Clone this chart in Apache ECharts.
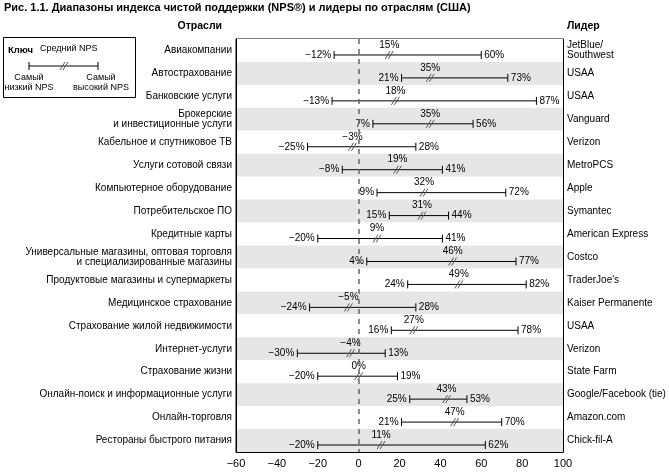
<!DOCTYPE html>
<html><head><meta charset="utf-8">
<script src="https://cdn.jsdelivr.net/npm/echarts@6/dist/echarts.min.js"></script>
<style>html,body{margin:0;padding:0;background:#fff}#c{width:669px;height:476px}</style>
</head><body><div id="c"></div>
<script>
const industries = ["Авиакомпании","Автострахование","Банковские услуги","Брокерские\nи инвестиционные услуги","Кабельное и спутниковое ТВ","Услуги сотовой связи","Компьютерное оборудование","Потребительское ПО","Кредитные карты","Универсальные магазины, оптовая торговля\nи специализированные магазины","Продуктовые магазины и супермаркеты","Медицинское страхование","Страхование жилой недвижимости","Интернет-услуги","Страхование жизни","Онлайн-поиск и информационные услуги","Онлайн-торговля","Рестораны быстрого питания"];
const leaders = ["JetBlue/\nSouthwest","USAA","USAA","Vanguard","Verizon","MetroPCS","Apple","Symantec","American Express","Costco","TraderJoe's","Kaiser Permanente","USAA","Verizon","State Farm","Google/Facebook (tie)","Amazon.com","Chick-fil-A"];
const lowNPS  = [-12,21,-13,7,-25,-8,9,15,-20,4,24,-24,16,-30,-20,25,21,-20];
const avgNPS  = [15,35,18,35,-3,19,32,31,9,46,49,-5,27,-4,0,43,47,11];
const highNPS = [60,73,87,56,28,41,72,44,41,77,82,28,78,13,19,53,70,62];
const xTicks = {min:-60, max:100, step:20};

const FONT = '"Liberation Sans", Arial, sans-serif';
const fmt = v => (v < 0 ? '\u2212' + Math.abs(v) : String(v)) + '%';

const data = industries.map((_, i) => [i, lowNPS[i], avgNPS[i], highNPS[i]]);

function renderItem(params, api) {
  const cat = api.value(0);
  const p1 = api.coord([api.value(1), cat]);
  const pa = api.coord([api.value(2), cat]);
  const p2 = api.coord([api.value(3), cat]);
  const y = p1[1] + 4.5;
  const st = {stroke:'#000', lineWidth:1};
  const sl = {stroke:'#555', lineWidth:1};
  const ts = {fontSize:10, fontFamily:FONT, fill:'#000'};
  return {type:'group', children:[
    {type:'line', shape:{x1:p1[0], y1:y, x2:p2[0], y2:y}, style:st},
    {type:'line', shape:{x1:p1[0], y1:y-4, x2:p1[0], y2:y+4}, style:st},
    {type:'line', shape:{x1:p2[0], y1:y-4, x2:p2[0], y2:y+4}, style:st},
    {type:'line', shape:{x1:pa[0]-4, y1:y+4, x2:pa[0]+1, y2:y-4}, style:sl},
    {type:'line', shape:{x1:pa[0]-1, y1:y+4, x2:pa[0]+4, y2:y-4}, style:sl},
    {type:'text', style:Object.assign({x:p1[0]-3, y:y, text:fmt(api.value(1)), textAlign:'right', textVerticalAlign:'middle'}, ts)},
    {type:'text', style:Object.assign({x:p2[0]+3, y:y, text:fmt(api.value(3)), textAlign:'left', textVerticalAlign:'middle'}, ts)},
    {type:'text', style:Object.assign({x:pa[0], y:y-10, text:fmt(api.value(2)), textAlign:'center', textVerticalAlign:'middle'}, ts)}
  ]};
}

const chart = echarts.init(document.getElementById('c'), null, {renderer:'canvas'});
chart.setOption({
  animation:false,
  textStyle:{fontFamily:FONT},
  graphic:[
    {type:'text', left:4, top:2, style:{text:'Рис. 1.1. Диапазоны индекса чистой поддержки (NPS®) и лидеры по отраслям (США)', fontSize:11, fontWeight:'bold', fontFamily:FONT, fill:'#000'}},
    {type:'text', right:669-222, top:21, style:{text:'Отрасли', fontSize:10.5, fontWeight:'bold', fontFamily:FONT, fill:'#000'}},
    {type:'text', left:567, top:21, style:{text:'Лидер', fontSize:10.5, fontWeight:'bold', fontFamily:FONT, fill:'#000'}},
    {type:'rect', shape:{x:3.5, y:37.5, width:132, height:60}, style:{fill:'none', stroke:'#000', lineWidth:1}},
    {type:'text', x:8, y:45, style:{text:'Ключ', fontSize:9.5, fontWeight:'bold', fontFamily:FONT, fill:'#000'}},
    {type:'text', x:40, y:44, style:{text:'Средний NPS', fontSize:9, fontFamily:FONT, fill:'#000'}},
    {type:'line', shape:{x1:29, y1:66, x2:98, y2:66}, style:{stroke:'#000', lineWidth:1}},
    {type:'line', shape:{x1:29, y1:62, x2:29, y2:70}, style:{stroke:'#000', lineWidth:1}},
    {type:'line', shape:{x1:98, y1:62, x2:98, y2:70}, style:{stroke:'#000', lineWidth:1}},
    {type:'line', shape:{x1:60, y1:70, x2:65, y2:62}, style:{stroke:'#555', lineWidth:1}},
    {type:'line', shape:{x1:63, y1:70, x2:68, y2:62}, style:{stroke:'#555', lineWidth:1}},
    {type:'text', x:29, y:73, style:{text:'Самый\nнизкий NPS', fontSize:9, fontFamily:FONT, fill:'#000', textAlign:'center', lineHeight:10}},
    {type:'text', x:101, y:73, style:{text:'Самый\nвысокий NPS', fontSize:9, fontFamily:FONT, fill:'#000', textAlign:'center', lineHeight:10}}
  ],
  grid:{left:236, right:106, top:39, bottom:24, show:true, borderColor:'#000', borderWidth:1, backgroundColor:'transparent'},
  xAxis:{type:'value', min:xTicks.min, max:xTicks.max, interval:xTicks.step,
    axisLine:{show:true, lineStyle:{color:'#000'}}, axisTick:{show:false}, splitLine:{show:false},
    axisLabel:{fontSize:11, color:'#000', fontFamily:FONT, margin:6, formatter:v => v < 0 ? '\u2212' + Math.abs(v) : String(v)}},
  yAxis:[
    {type:'category', data:industries, inverse:true, position:'left',
      axisLine:{show:true, onZero:false, lineStyle:{color:'#000'}}, axisTick:{show:false},
      axisLabel:{fontSize:10, color:'#000', fontFamily:FONT, margin:4, align:'right', lineHeight:10},
      splitArea:{show:true, areaStyle:{color:['#ffffff','#e6e6e6']}}, splitLine:{show:false}},
    {type:'category', data:leaders, inverse:true, position:'right',
      axisLine:{show:true, onZero:false, lineStyle:{color:'#000'}}, axisTick:{show:false},
      axisLabel:{fontSize:10, color:'#000', fontFamily:FONT, margin:4, align:'left', lineHeight:10},
      splitArea:{show:false}, splitLine:{show:false}}
  ],
  series:[
    {type:'custom', renderItem:renderItem, data:data, encode:{x:[1,2,3], y:0}, z:3,
     markLine:{silent:true, symbol:'none', label:{show:false},
       lineStyle:{color:'#666', type:[5,5], width:1.5}, data:[{xAxis:0}]}}
  ]
});
</script></body></html>
